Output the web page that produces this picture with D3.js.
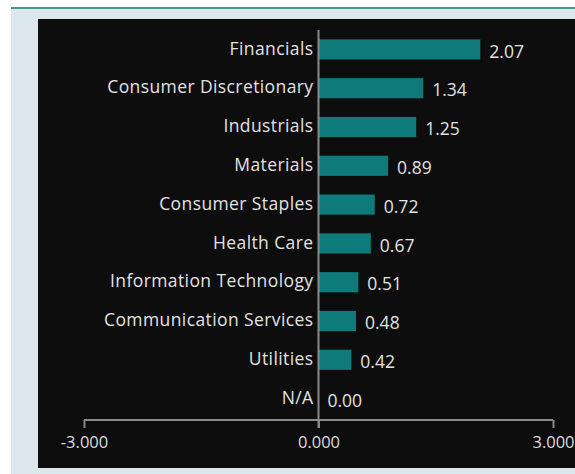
<!DOCTYPE html>
<html>
<head>
<meta charset="utf-8">
<script src="https://cdn.jsdelivr.net/npm/d3@7"></script>
<style>
  body { margin: 0; background: #fff; }
  svg { display: block; }
</style>
</head>
<body>
<script>
// Chart data
var categories = ["Financials", "Consumer Discretionary", "Industrials", "Materials",
    "Consumer Staples", "Health Care", "Information Technology",
    "Communication Services", "Utilities", "N/A"];
var values = [2.07, 1.34, 1.25, 0.89, 0.72, 0.67, 0.51, 0.48, 0.42, 0.00];
var tickValues = [-3, 0, 3];

var w = 575;
var h = 474;
var font = "'Open Sans', sans-serif";

var svg = d3.select("body")
    .append("svg")
    .attr("width", w)
    .attr("height", h);

// page frame
svg.append("rect").attr("x", 11).attr("y", 7).attr("width", w - 11).attr("height", h - 7)
    .attr("fill", "#dce7eb");
svg.append("rect").attr("x", 11).attr("y", 7).attr("width", w - 11).attr("height", 2)
    .attr("fill", "#4c8ea0");
// dark panel
svg.append("rect").attr("x", 38).attr("y", 19).attr("width", w - 38).attr("height", 449)
    .attr("fill", "#0d0d0d");

var xScale = d3.scaleLinear()
    .domain([-3, 3])
    .range([84, 553]);

var yScale = d3.scaleBand()
    .domain(categories)
    .range([30, 418])
    .paddingInner(0.48)
    .paddingOuter(0.24);

// x axis
var xAxis = d3.axisBottom(xScale)
    .tickValues(tickValues)
    .tickFormat(function(d) { return d.toFixed(3); })
    .tickSize(8)
    .tickSizeOuter(0);
var gx = svg.append("g")
    .attr("transform", "translate(0,420)")
    .call(xAxis);
gx.select(".domain").attr("stroke", "#8a8a8a").attr("stroke-width", 2)
    .attr("d", "M" + xScale(-3) + ",0H" + xScale(3));
gx.selectAll(".tick line").attr("stroke", "#8a8a8a").attr("stroke-width", 2);
gx.selectAll(".tick text")
    .attr("fill", "#dcdcdc")
    .attr("font-family", font)
    .attr("font-size", "16.5px")
    .attr("dy", "1em");

// bars
svg.selectAll(".bar")
    .data(values)
    .enter()
    .append("rect")
    .attr("class", "bar")
    .attr("x", xScale(0))
    .attr("y", function(d, i) { return yScale(categories[i]); })
    .attr("width", function(d) { return xScale(d) - xScale(0); })
    .attr("height", yScale.bandwidth())
    .attr("fill", "#0e7a79");

// zero line
svg.append("line")
    .attr("x1", xScale(0)).attr("x2", xScale(0))
    .attr("y1", 30).attr("y2", 428)
    .attr("stroke", "#8a8a8a")
    .attr("stroke-width", 2);

// category labels
svg.selectAll(".cat")
    .data(categories)
    .enter()
    .append("text")
    .attr("class", "cat")
    .attr("x", xScale(0) - 5)
    .attr("y", function(d) { return yScale(d) + yScale.bandwidth() / 2 - 1; })
    .attr("dy", "0.35em")
    .attr("text-anchor", "end")
    .attr("fill", "#e2e2e2")
    .attr("font-family", font)
    .attr("font-weight", 500)
    .attr("letter-spacing", "0.4px")
    .attr("font-size", "17.5px")
    .text(function(d) { return d; });

// value labels
svg.selectAll(".val")
    .data(values)
    .enter()
    .append("text")
    .attr("class", "val")
    .attr("x", function(d) { return xScale(d) + 9; })
    .attr("y", function(d, i) { return yScale(categories[i]) + yScale.bandwidth() / 2 + 2; })
    .attr("dy", "0.35em")
    .attr("fill", "#e2e2e2")
    .attr("font-family", font)
    .attr("font-weight", 500)
    .attr("font-size", "17.5px")
    .text(function(d) { return d.toFixed(2); });
</script>
</body>
</html>
